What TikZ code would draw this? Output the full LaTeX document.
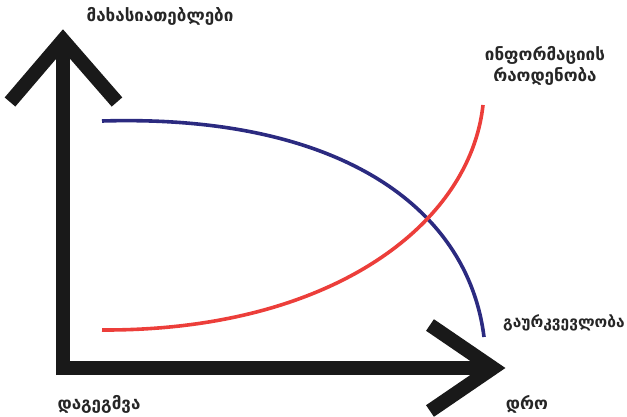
\documentclass[tikz,border=0pt]{standalone}
\usepackage{fontspec}
\newfontfamily\geo{DejaVu Sans}
\definecolor{navy}{HTML}{2B2A80}
\definecolor{redc}{HTML}{EC3E3A}
\begin{document}
\begin{tikzpicture}[x=1pt,y=-1pt,
  axis/.style={line width=14pt,black!90,line join=miter},
  curve/.style={line width=3.6pt},
  lbl/.style={font=\geo\bfseries\fontsize{17}{21}\selectfont,text=black!85,inner sep=0pt}]
\useasboundingbox (0,0) rectangle (627,417);
% axes
\coordinate (o) at (63,368);
\coordinate (ytop) at (63,40);
\coordinate (xend) at (493,368);
\draw[axis] (63,375) -- (ytop);
\draw[axis] (56,368) -- (xend);
\draw[axis] (10,102) -- (ytop) -- (117,102);
\draw[axis] (430,325) -- (xend) -- (430,411);
% curves
\coordinate (b1) at (102,121);
\coordinate (b2) at (484,337);
\coordinate (r1) at (102,330);
\coordinate (r2) at (483,105);
\draw[curve,navy] (b1) .. controls (340,114) and (468,208) .. (b2);
\draw[curve,redc] (r1) .. controls (330,331) and (470,225) .. (r2);
% labels
\node[lbl] (ylab) at (160,16) {მახასიათებლები};
\node[lbl,align=center] (info) at (545,66) {ინფორმაციის\\რაოდენობა};
\node[lbl,anchor=west,font=\geo\bfseries\fontsize{15.5}{19}\selectfont] (unc) at (503,323) {გაურკვევლობა};
\node[lbl] (plan) at (99,404) {დაგეგმვა};
\node[lbl] (time) at (527,404) {დრო};
\end{tikzpicture}
\end{document}
